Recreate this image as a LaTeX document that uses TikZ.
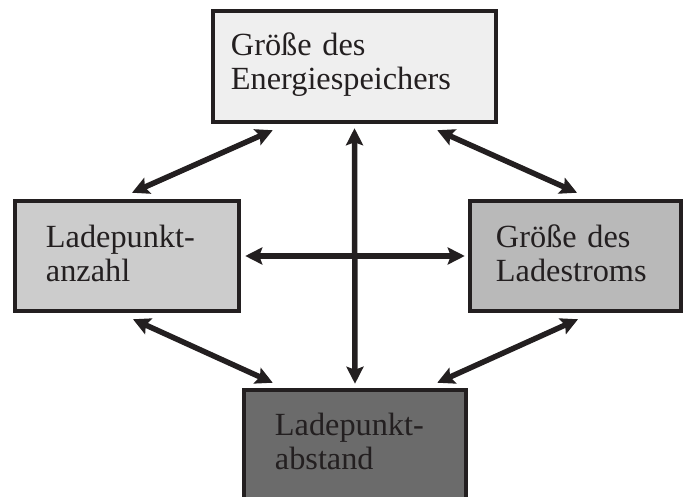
\documentclass[tikz,border=0pt]{standalone}
\usepackage{fontspec}
\setmainfont{Liberation Serif}
\usetikzlibrary{arrows.meta}
\definecolor{ink}{HTML}{231F20}
\definecolor{fillA}{HTML}{EFEFEF}
\definecolor{fillB}{HTML}{CCCCCC}
\definecolor{fillC}{HTML}{B9B9B9}
\definecolor{fillD}{HTML}{6B6B6B}
\tikzset{
  box/.style={draw=ink, line width=4.5pt, inner sep=0pt, rectangle},
  lbl/.style={anchor=base west, inner sep=0pt, text width=220pt, align=left,
    text=ink, font=\fontsize{32.3}{34}\selectfont},
  link/.style={draw=ink, line width=5.5pt,
    {Stealth[length=17pt,width=17pt,inset=3pt]}-{Stealth[length=17pt,width=17pt,inset=3pt]}}
}
\begin{document}
\begin{tikzpicture}[x=1pt,y=1pt]
\useasboundingbox (0,0) rectangle (685,497);
\clip (0,0) rectangle (685,497);
% the four boxes
\node[box, fill=fillA, minimum width=283pt, minimum height=111pt] (top) at (354.5,430.5) {};
\node[box, fill=fillB, minimum width=224pt, minimum height=110pt] (left) at (127,241) {};
\node[box, fill=fillC, minimum width=211pt, minimum height=110pt] (right) at (575.5,241) {};
\node[box, fill=fillD, minimum width=222pt, minimum height=130pt] (bottom) at (355,42) {};
% labels
\node[lbl] (ttop) at ([xshift=20pt,yshift=-47pt]top.north west) {Größe des\\Energiespeichers};
\node[lbl] (tleft) at ([xshift=33pt,yshift=-49pt]left.north west) {Ladepunkt-\\anzahl};
\node[lbl] (tright) at ([xshift=28pt,yshift=-49pt]right.north west) {Größe des\\Ladestroms};
\node[lbl] (tbottom) at ([xshift=33pt,yshift=-48pt]bottom.north west) {Ladepunkt-\\abstand};
% mutual dependencies
\draw[link] ([xshift=62pt,yshift=-6pt]top.south west) -- ([xshift=5pt,yshift=6pt]left.north);
\draw[link] ([xshift=-61pt,yshift=-6pt]top.south east) -- ([xshift=1.5pt,yshift=6pt]right.north);
\draw[link] ([xshift=6pt,yshift=-6pt]left.south) -- ([xshift=31pt,yshift=5pt]bottom.north west);
\draw[link] ([xshift=2.5pt,yshift=-6pt]right.south) -- ([xshift=-31pt,yshift=5pt]bottom.north east);
\draw[link] ([yshift=-4pt]top.south) -- ([yshift=4pt]bottom.north);
\draw[link] ([xshift=4pt]left.east) -- ([xshift=-3pt]right.west);
\end{tikzpicture}
\end{document}
